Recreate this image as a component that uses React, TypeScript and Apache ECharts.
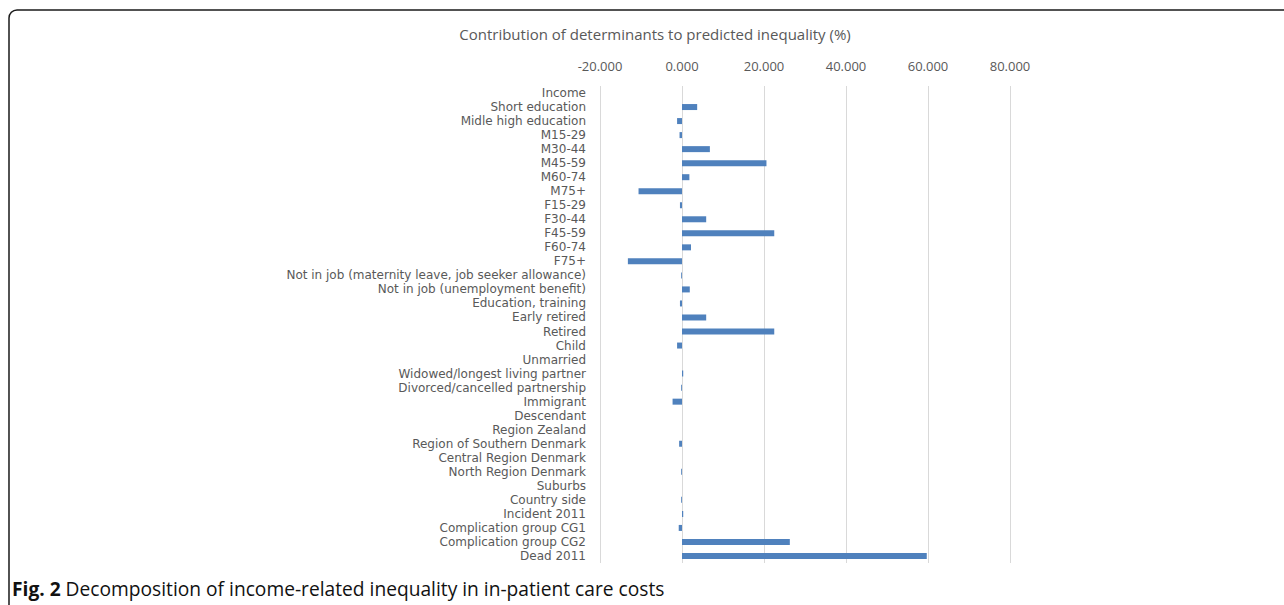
import React, { useEffect, useRef } from "react";
import * as echarts from "echarts";

const categories = [
  "Income",
  "Short education",
  "Midle high education",
  "M15-29",
  "M30-44",
  "M45-59",
  "M60-74",
  "M75+",
  "F15-29",
  "F30-44",
  "F45-59",
  "F60-74",
  "F75+",
  "Not in job (maternity leave, job seeker allowance)",
  "Not in job (unemployment benefit)",
  "Education, training",
  "Early retired",
  "Retired",
  "Child",
  "Unmarried",
  "Widowed/longest living partner",
  "Divorced/cancelled partnership",
  "Immigrant",
  "Descendant",
  "Region Zealand",
  "Region of Southern Denmark",
  "Central Region Denmark",
  "North Region Denmark",
  "Suburbs",
  "Country side",
  "Incident 2011",
  "Complication group CG1",
  "Complication group CG2",
  "Dead 2011",
];

const contributions = [
  0, 3.7, -1.2, -0.6, 6.8, 20.6, 1.8, -10.6, -0.5, 5.9, 22.5, 2.2, -13.2,
  -0.2, 1.9, -0.5, 5.9, 22.5, -1.2, 0, 0.3, -0.2, -2.3, 0, 0, -0.7, 0, -0.2,
  0, -0.2, 0.3, -0.8, 26.3, 59.7,
];

const xTicks = { min: -20, max: 80, interval: 20 };

const titleText = "Contribution of determinants to predicted inequality (%)";
const captionBold = "Fig. 2";
const captionText = " Decomposition of income-related inequality in in-patient care costs";

export default function App() {
  const ref = useRef<HTMLDivElement>(null);
  useEffect(() => {
    if (!ref.current) return;
    const chart = echarts.init(ref.current, undefined, { renderer: "svg" });
    const font = "'Open Sans', sans-serif";
    chart.setOption({
      animation: false,
      backgroundColor: "#ffffff",
      grid: { left: 600, width: 410, top: 86, bottom: 42, containLabel: false },
      xAxis: {
        type: "value",
        position: "top",
        min: xTicks.min,
        max: xTicks.max,
        interval: xTicks.interval,
        axisLine: { show: false },
        axisTick: { show: false },
        axisLabel: {
          margin: 14,
          color: "#595959",
          fontSize: 13,
          fontFamily: font,
          formatter: (v: number) => v.toFixed(3),
        },
        splitLine: { show: true, lineStyle: { color: "#d9d9d9", width: 1 } },
      },
      yAxis: {
        type: "category",
        data: categories,
        inverse: true,
        axisLine: { show: false },
        axisTick: { show: false },
        axisLabel: {
          margin: 14,
          color: "#595959",
          fontSize: 12,
          lineHeight: 12,
          fontFamily: "'DejaVu Sans', sans-serif",
          interval: 0,
        },
      },
      series: [
        {
          type: "bar",
          data: contributions,
          barWidth: 6,
          itemStyle: { color: "#4F81BD" },
        },
      ],
      graphic: [
        {
          type: "rect",
          shape: { x: 9, y: 10, width: 1300, height: 640, r: 8 },
          style: { fill: "none", stroke: "#1a1a1a", lineWidth: 1.5 },
          silent: true,
        },
        {
          type: "text",
          x: 655,
          y: 34,
          style: {
            text: titleText,
            fill: "#595959",
            fontSize: 15,
            fontFamily: font,
            align: "center",
            verticalAlign: "middle",
          },
        },
        {
          type: "text",
          x: 12,
          y: 588,
          style: {
            text: "{b|" + captionBold + "}{r|" + captionText + "}",
            verticalAlign: "middle",
            rich: {
              b: { fontWeight: "bold", fontSize: 19.2, fill: "#111", fontFamily: font },
              r: { fontSize: 19.2, fill: "#111", fontFamily: font },
            },
          },
        },
      ],
    });
    return () => chart.dispose();
  }, []);
  return (
    <div
      ref={ref}
      style={{ position: "absolute", left: 0, top: 0, width: 1284, height: 605 }}
    />
  );
}
